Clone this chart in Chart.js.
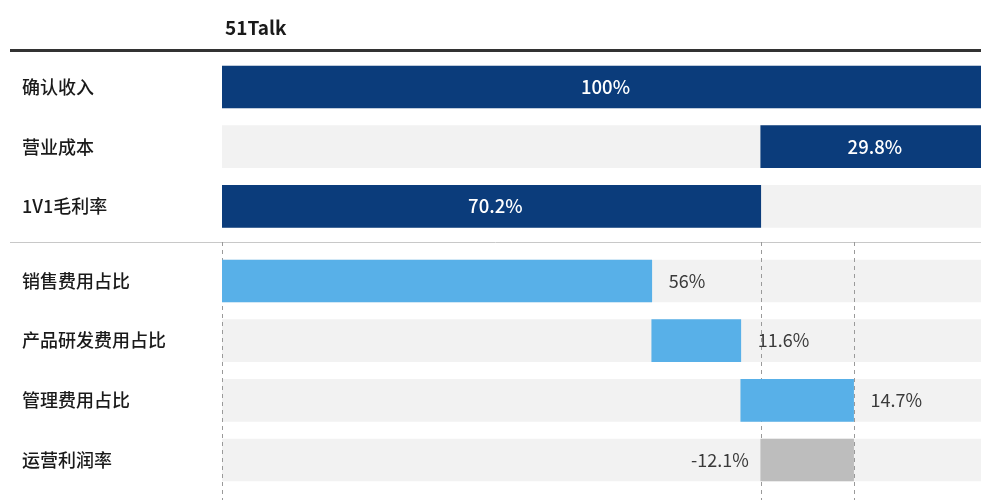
<!DOCTYPE html>
<html><head><meta charset="utf-8">
<script src="https://cdn.jsdelivr.net/npm/chart.js@4.4.1/dist/chart.umd.min.js"></script>
<style>html,body{margin:0;padding:0;background:#fff;overflow:hidden;} canvas{display:block;}</style>
</head><body>
<canvas id="c" width="981" height="500"></canvas>
<script>
// ---- data ----
const header = '51Talk';
const categories = ['确认收入', '营业成本', '1V1毛利率', '销售费用占比', '产品研发费用占比', '管理费用占比', '运营利润率'];
const sections = [0, 0, 0, 1, 1, 1, 1];
const values = [100, 29.8, 70.2, 56, 11.6, 14.7, -12.1];
const kinds = ['total', 'total', 'total', 'expense', 'expense', 'expense', 'result'];

// ---- derived waterfall ranges ----
const ranges = [];
(function () {
  ranges.push([0, values[0]]);                       // revenue
  ranges.push([values[0] - values[1], values[0]]);   // cost
  ranges.push([0, values[2]]);                       // gross margin
  let acc = 0;
  for (let i = 3; i <= 5; i++) { ranges.push([acc, acc + values[i]]); acc += values[i]; }
  ranges.push([values[2], values[2] - values[6]]);   // operating margin
})();
const guideValues = [0, values[2], values[2] - values[6]];

const SECTION_GAP = 0.25;
const pos = categories.map((_, i) => i + sections[i] * SECTION_GAP);
const X_MIN = 0, X_MAX = 98.9;
const Y_MIN = -0.5865, Y_MAX = 6.92;
const kindColor = { total: '#0b3c7b', expense: '#58b0e8', result: '#bdbdbd' };
const FONT = '"Noto Sans CJK SC", "Noto Sans", sans-serif';

const fgData = ranges.map((r, i) => ({ x: r, y: pos[i] }));
const bgData = pos.map(p => ({ x: [X_MIN, X_MAX], y: p }));

function sepPixel(chart) {
  return Math.round(chart.scales.y.getPixelForValue((pos[2] + pos[3]) / 2)) - 2;
}

const decor = {
  id: 'decor',
  beforeDraw(chart) {
    const { ctx, chartArea } = chart;
    ctx.save();
    ctx.fillStyle = '#1a1a1a';
    ctx.font = 'bold 19px ' + FONT;
    ctx.textBaseline = 'middle';
    ctx.textAlign = 'left';
    ctx.fillText(header, chartArea.left + 3, 28);
    ctx.strokeStyle = '#333';
    ctx.lineWidth = 3;
    ctx.beginPath(); ctx.moveTo(10, chartArea.top - 1.5); ctx.lineTo(chart.width, chartArea.top - 1.5); ctx.stroke();
    const sepY = sepPixel(chart) + 0.5;
    ctx.strokeStyle = '#c8c8c8';
    ctx.lineWidth = 1;
    ctx.beginPath(); ctx.moveTo(10, sepY); ctx.lineTo(chart.width, sepY); ctx.stroke();
    ctx.restore();
  },
  beforeDatasetDraw(chart, args) {
    if (args.index !== 0) return;
    const { ctx, chartArea } = chart;
    const xs = chart.scales.x;
    const sepY = sepPixel(chart);
    ctx.save();
    ctx.strokeStyle = '#9a9a9a';
    ctx.lineWidth = 1;
    ctx.setLineDash([4, 4]);
    guideValues.forEach(v => {
      const x = Math.round(xs.getPixelForValue(v)) + 0.5;
      ctx.beginPath(); ctx.moveTo(x, sepY); ctx.lineTo(x, chartArea.bottom); ctx.stroke();
    });
    ctx.restore();
  },
  afterDatasetsDraw(chart) {
    const { ctx, chartArea } = chart;
    const meta = chart.getDatasetMeta(0);
    ctx.save();
    ctx.textBaseline = 'middle';
    meta.data.forEach((bar, i) => {
      const l = Math.max(Math.min(bar.x, bar.base), chartArea.left);
      const r = Math.min(Math.max(bar.x, bar.base), chartArea.right);
      const txt = values[i] + '%';
      if (kinds[i] === 'total') {
        ctx.fillStyle = '#ffffff';
        ctx.font = '500 18.5px ' + FONT;
        ctx.textAlign = 'center';
        ctx.fillText(txt, (l + r) / 2 + 4, bar.y);
      } else if (values[i] >= 0) {
        ctx.fillStyle = '#3a3a3a';
        ctx.font = '18px ' + FONT;
        ctx.textAlign = 'left';
        ctx.fillText(txt, r + 17, bar.y);
      } else {
        ctx.fillStyle = '#3a3a3a';
        ctx.font = '18px ' + FONT;
        ctx.textAlign = 'right';
        ctx.fillText(txt, l - 12, bar.y);
      }
    });
    ctx.restore();
  }
};

new Chart(document.getElementById('c'), {
  type: 'bar',
  data: {
    datasets: [
      { data: fgData, backgroundColor: kinds.map(k => kindColor[k]), barThickness: 42, grouped: false, order: 1 },
      { data: bgData, backgroundColor: '#f2f2f2', barThickness: 42, grouped: false, order: 2 }
    ]
  },
  options: {
    indexAxis: 'y',
    responsive: false,
    animation: false,
    layout: { padding: { left: 22, top: 52, right: 0, bottom: 0 } },
    scales: {
      x: { type: 'linear', min: X_MIN, max: X_MAX, display: false, offset: false },
      y: {
        type: 'linear', reverse: true, min: Y_MIN, max: Y_MAX, offset: false, bounds: 'data', grace: 0,
        grid: { display: false, offset: false }, border: { display: false },
        afterBuildTicks: s => { s.ticks = pos.map(v => ({ value: v })); s.min = Y_MIN; s.max = Y_MAX; },
        afterFit: s => { s.width = 200; s.paddingTop = 0; s.paddingBottom = 0; },
        ticks: {
          autoSkip: false, crossAlign: 'far', padding: 0,
          color: '#1a1a1a', font: { family: FONT, size: 18, weight: '500' },
          callback: (v, i) => categories[i]
        }
      }
    },
    plugins: { legend: { display: false }, tooltip: { enabled: false } }
  },
  plugins: [decor]
});
</script>
</body></html>
